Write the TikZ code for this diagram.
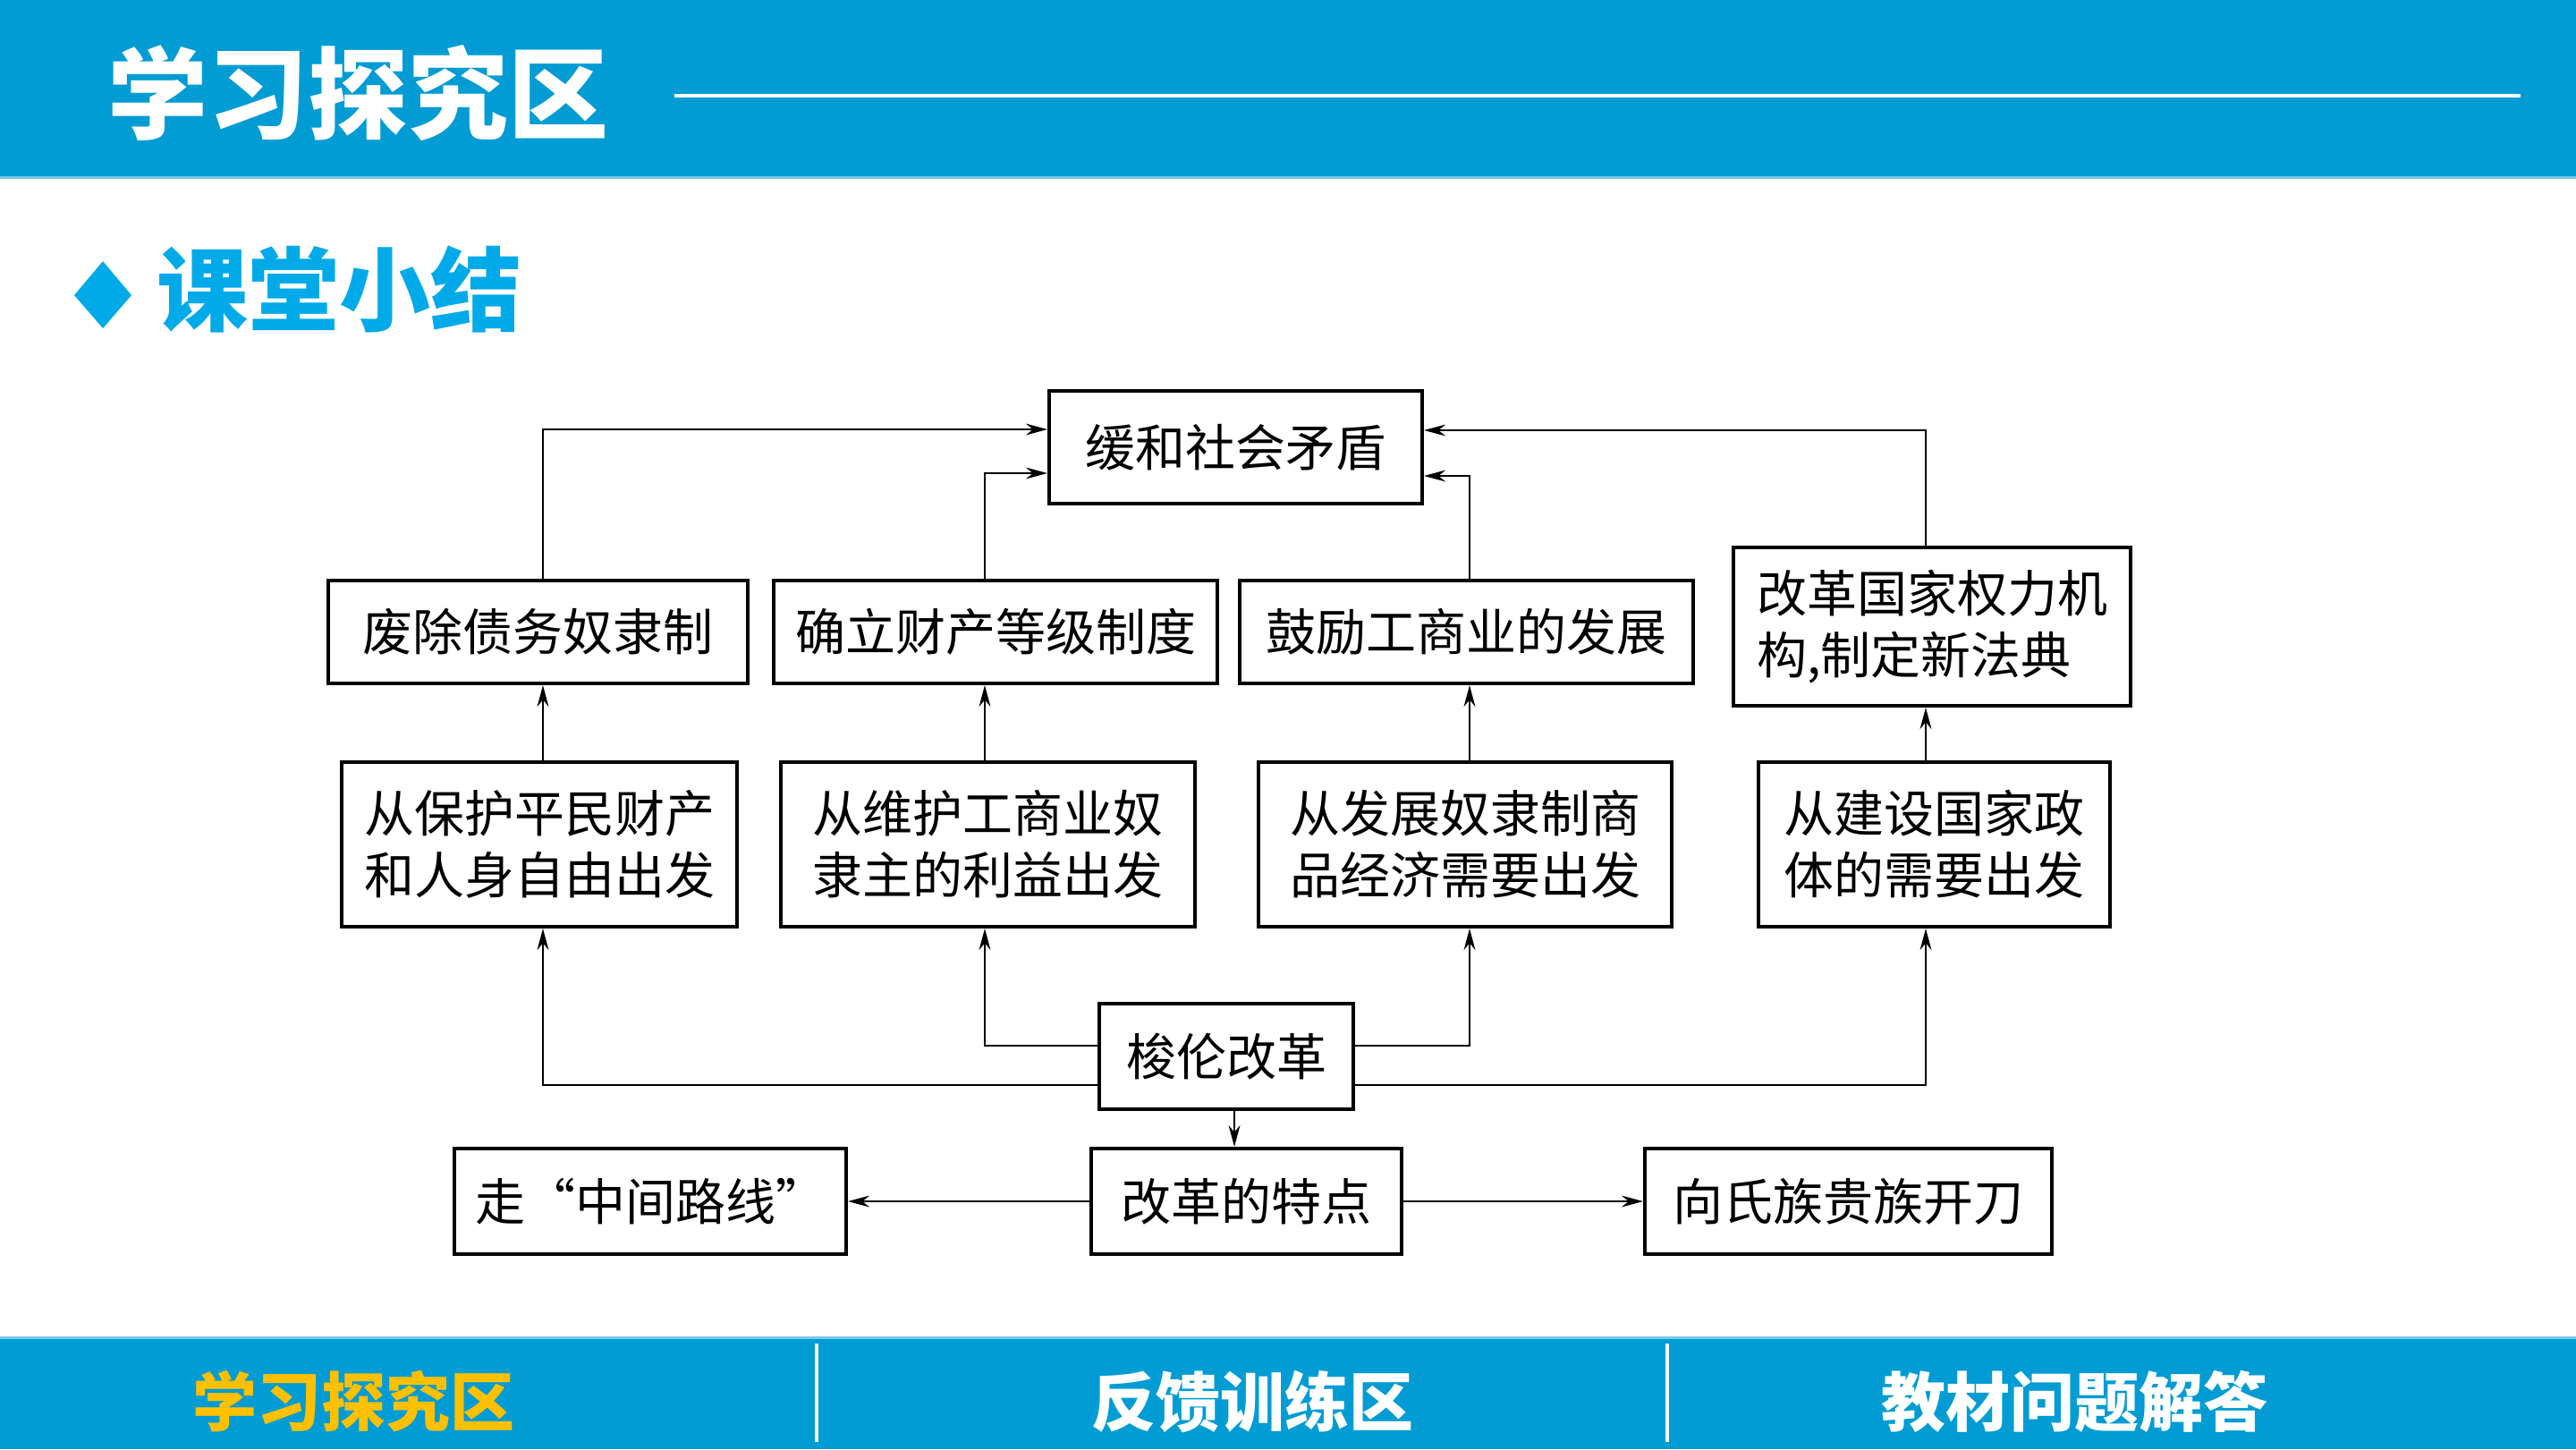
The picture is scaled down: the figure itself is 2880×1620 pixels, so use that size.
\documentclass[tikz,border=0pt]{standalone}
\usepackage{fontspec}
\newfontfamily\cjk{Noto Sans CJK SC}
\usetikzlibrary{arrows.meta,calc}
\definecolor{bandblue}{RGB}{0,156,211}
\definecolor{lightline}{RGB}{120,200,235}
\definecolor{accent}{RGB}{0,170,232}
\definecolor{navyellow}{RGB}{255,192,0}
\tikzset{
  bx/.style={draw=black, line width=1pt, inner sep=0pt, align=center,
    font=\cjk\fontsize{14}{17.25}\selectfont},
  arr/.style={line width=0.6pt, -{Stealth[length=6pt,width=3.2pt]}},
  navtext/.style={font=\cjk\bfseries\fontsize{18}{18}\selectfont, inner sep=0pt}
}
\begin{document}
\begin{tikzpicture}[x=0.25pt,y=-0.25pt]
\useasboundingbox (0,0) rectangle (2880,1620);
% header
\fill[bandblue] (0,0) rectangle (2880,197);
\fill[lightline] (0,197) rectangle (2880,200);
\node[anchor=west, text=white, inner sep=0pt, font=\cjk\bfseries\fontsize{28}{28}\selectfont] (title) at (120,104) {学习探究区};
\draw[white, line width=0.8pt] (754,107) -- (2818,107);
% section title
\fill[accent] (83,330) -- (115,292) -- (147,330) -- (115,367) -- cycle;
\node[anchor=west, text=accent, inner sep=0pt, font=\cjk\bfseries\fontsize{25.5}{25.5}\selectfont] (sec) at (175,323) {课堂小结};
% boxes
\node[bx, minimum width=104.25pt, minimum height=31.5pt] (top) at (1381.5,500) {缓和社会矛盾};
\node[bx, minimum width=117.25pt, minimum height=28.75pt] (fc) at (601.5,706.5) {废除债务奴隶制};
\node[bx, minimum width=124pt, minimum height=28.75pt] (ql) at (1113,706.5) {确立财产等级制度};
\node[bx, minimum width=126.75pt, minimum height=28.75pt] (gl) at (1639.5,706.5) {鼓励工商业的发展};
\node[bx, align=left, minimum width=111pt, minimum height=44.25pt] (gg) at (2160,700.5) {改革国家权力机\\构,制定新法典};
\node[bx, minimum width=110.5pt, minimum height=46pt] (m1) at (603,944) {从保护平民财产\\和人身自由出发};
\node[bx, minimum width=115.75pt, minimum height=46pt] (m2) at (1104.5,944) {从维护工商业奴\\隶主的利益出发};
\node[bx, minimum width=115.5pt, minimum height=46pt] (m3) at (1638,944) {从发展奴隶制商\\品经济需要出发};
\node[bx, minimum width=98.25pt, minimum height=46pt] (m4) at (2162.5,944) {从建设国家政\\体的需要出发};
\node[bx, minimum width=71pt, minimum height=29.5pt] (sl) at (1371,1181) {梭伦改革};
\node[bx, minimum width=109.5pt, minimum height=29.5pt] (b1) at (727,1343) {走“中间路线”};
\node[bx, minimum width=86.75pt, minimum height=29.5pt] (b2) at (1393.5,1343) {改革的特点};
\node[bx, minimum width=113.75pt, minimum height=29.5pt] (b3) at (2066.5,1343) {向氏族贵族开刀};
% column coordinates
\coordinate (xa) at (607,0);
\coordinate (xb) at (1101,0);
\coordinate (xc) at (1643,0);
\coordinate (xd) at (2153,0);
\coordinate (xe) at (1380,0);
% connectors
\draw[arr] (xa |- m1.north) -- (xa |- fc.south);
\draw[arr] (xb |- m2.north) -- (xb |- ql.south);
\draw[arr] (xc |- m3.north) -- (xc |- gl.south);
\draw[arr] (xd |- m4.north) -- (xd |- gg.south);
\draw[arr] (xa |- fc.north) |- ([yshift=5pt]top.west);
\draw[arr] (xb |- ql.north) |- ([yshift=-7.25pt]top.west);
\draw[arr] (xc |- gl.north) |- ([yshift=-8pt]top.east);
\draw[arr] (xd |- gg.north) |- ([yshift=4.75pt]top.east);
\draw[arr] ([yshift=3pt]sl.west) -| (xb |- m2.south);
\draw[arr] ([yshift=-8pt]sl.west) -| (xa |- m1.south);
\draw[arr] ([yshift=3pt]sl.east) -| (xc |- m3.south);
\draw[arr] ([yshift=-8pt]sl.east) -| (xd |- m4.south);
\draw[arr] (xe |- sl.south) -- (xe |- b2.north);
\draw[arr] (b2.west) -- (b1.east);
\draw[arr] (b2.east) -- (b3.west);
% footer
\fill[lightline] (0,1494) rectangle (2880,1497);
\fill[bandblue] (0,1497) rectangle (2880,1620);
\draw[white, line width=0.8pt] (913,1502) -- (913,1612);
\draw[white, line width=0.8pt] (1864,1502) -- (1864,1612);
\node[navtext, text=navyellow] (n1) at (395,1567) {学习探究区};
\node[navtext, text=white] (n2) at (1400,1567) {反馈训练区};
\node[navtext, text=white] (n3) at (2319,1567) {教材问题解答};
\end{tikzpicture}
\end{document}
